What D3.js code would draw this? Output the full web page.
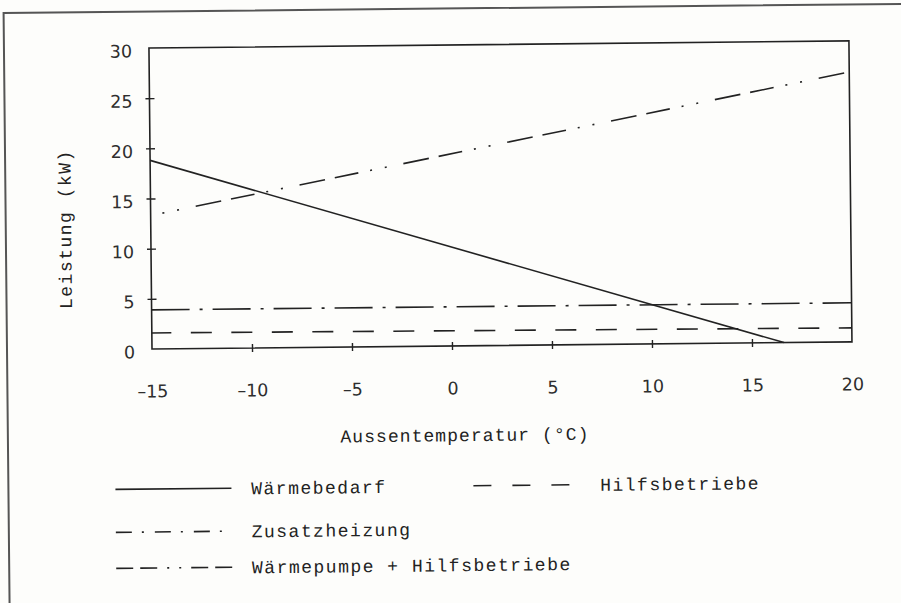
<!DOCTYPE html>
<html>
<head>
  <meta charset="utf-8">
  <script src="https://d3js.org/d3.v7.min.js"></script>
  <style>
    body { margin: 0; background: #fdfdfb; }
    .type { font-family: "Liberation Mono", "DejaVu Sans Mono", monospace; font-size: 18px; fill: #222; }
    .num { font-family: "DejaVu Sans", sans-serif; font-size: 17.5px; fill: #2e2e2e; }
  </style>
</head>
<body>
<script>
  // values
  var xTicks = [-15, -10, -5, 0, 5, 10, 15, 20];
  var yTicks = [0, 5, 10, 15, 20, 25, 30];

  var bedarfT = [-15, 16.6];
  var bedarfP = [18.8, 0];
  var zusatzT = [-15, 20];
  var zusatzP = [3.9, 3.9];
  var hilfsT = [-15, 20];
  var hilfsP = [1.6, 1.4];
  var wpT = [-15, 20];
  var wpP = [13.3, 26.9];

  var seriesNames = ["Wärmebedarf", "Hilfsbetriebe", "Zusatzheizung", "Wärmepumpe + Hilfsbetriebe"];

  var W = 901, H = 603;
  var plot = {left: 152, right: 852, bottom: 349, top: 48};

  var svg = d3.select("body").append("svg")
    .attr("width", W).attr("height", H);

  // the scan is a little skewed, so turn everything a touch
  var g = svg.append("g").attr("transform", "rotate(-0.58,152,349)");

  // typewriter text: one character per fixed cell
  function typed(sel, str, x0, pitch) {
    var xs = d3.range(str.length).map(function(i) { return (x0 + pitch * (i + 0.5)).toFixed(1); });
    return sel.attr("class", "type").attr("x", xs.join(" ")).attr("text-anchor", "middle").text(str);
  }

  // outer frame (only top and left survive in the scan)
  g.append("path")
    .attr("d", "M7,700 L7,11.5 L1000,11.5")
    .attr("fill", "none").attr("stroke", "#555").attr("stroke-width", 2);

  var x = d3.scaleLinear().domain([-15, 20]).range([plot.left, plot.right]);
  var y = d3.scaleLinear().domain([0, 30]).range([plot.bottom, plot.top]);

  function fmt(d) { return d < 0 ? "\u2013" + Math.abs(d) : "" + d; }

  var xAxis = g.append("g")
    .attr("transform", "translate(0," + plot.bottom + ")")
    .call(d3.axisBottom(x).tickValues(xTicks).tickFormat(fmt).tickSize(4).tickPadding(32));
  xAxis.select(".domain").remove();
  xAxis.selectAll(".tick line").attr("y1", -4).attr("y2", 4).attr("stroke", "#222").attr("stroke-width", 1.4)
    .filter(function(d) { return d == -15 || d == 20; }).remove();
  xAxis.selectAll(".tick text").attr("class", "num").attr("font-family", null).attr("font-size", null);

  var yAxis = g.append("g")
    .attr("transform", "translate(" + plot.left + ",0)")
    .call(d3.axisLeft(y).tickValues(yTicks).tickSize(4).tickPadding(13));
  yAxis.select(".domain").remove();
  yAxis.selectAll(".tick line").attr("x1", -4).attr("x2", 5).attr("stroke", "#222").attr("stroke-width", 1.4)
    .filter(function(d) { return d == 0 || d == 30; }).remove();
  yAxis.selectAll(".tick text").attr("class", "num").attr("font-family", null).attr("font-size", null)
    .attr("dy", "0.5em");

  // plot box
  g.append("rect")
    .attr("x", x(-15)).attr("y", y(30))
    .attr("width", x(20) - x(-15)).attr("height", y(0) - y(30))
    .attr("fill", "none").attr("stroke", "#222").attr("stroke-width", 1.6);

  var line = d3.line().x(function(d) { return x(d[0]); }).y(function(d) { return y(d[1]); });
  function pts(t, p) { return t.map(function(v, i) { return [v, p[i]]; }); }

  var curves = [
    {pts: pts(bedarfT, bedarfP), dash: null, off: 0},
    {pts: pts(hilfsT, hilfsP), dash: "21,19.5", off: 1.5},
    {pts: pts(zusatzT, zusatzP), dash: "38,10,3,10", off: 0},
    {pts: pts(wpT, wpP), dash: "26,10,24,12,2,13,2,17", off: 60}
  ];

  g.selectAll(".curve").data(curves).enter().append("path")
    .attr("class", "curve")
    .attr("d", function(d) { return line(d.pts); })
    .attr("fill", "none").attr("stroke", "#222").attr("stroke-width", 1.6)
    .attr("stroke-dasharray", function(d) { return d.dash; })
    .attr("stroke-dashoffset", function(d) { return d.off; });

  // axis titles
  var xt = "Aussentemperatur (\u00b0C)";
  typed(g.append("text").attr("y", 438).attr("dy", "0.35em"), xt, 339, 11.86);

  var yt = "Leistung (kW)";
  typed(g.append("text").attr("transform", "translate(66,229) rotate(-90)").attr("y", 0).attr("dy", "0.35em"),
    yt, -yt.length * 12.3 / 2, 12.3);

  // legend
  var legend = [
    {x1: 114, x2: 230, y: 489, tx: 249, dash: null},
    {x1: 472, x2: 570, y: 489, tx: 598, dash: "18,21"},
    {x1: 114, x2: 223, y: 532, tx: 249, dash: "16,10,2,11"},
    {x1: 114, x2: 230, y: 568, tx: 249, dash: "17,7,17,10,2,10,2,10,17,7,17"}
  ];

  var lg = g.selectAll(".leg").data(legend).enter().append("g").attr("class", "leg");
  lg.append("line")
    .attr("x1", function(d) { return d.x1; }).attr("x2", function(d) { return d.x2; })
    .attr("y1", function(d) { return d.y; }).attr("y2", function(d) { return d.y; })
    .attr("stroke", "#222").attr("stroke-width", 1.6)
    .attr("stroke-dasharray", function(d) { return d.dash; });
  lg.each(function(d, i) {
    typed(d3.select(this).append("text").attr("y", d.y).attr("dy", "0.35em"), seriesNames[i], d.tx, 12.3);
  });
</script>
</body>
</html>
